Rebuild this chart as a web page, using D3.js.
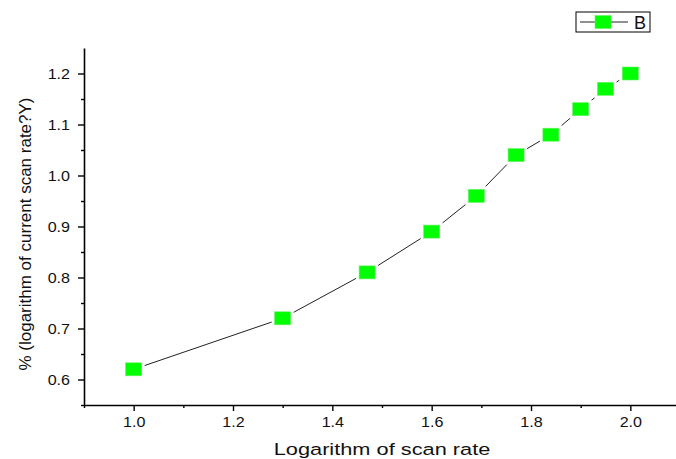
<!DOCTYPE html>
<html>
<head>
<meta charset="utf-8">
<script src="https://cdn.jsdelivr.net/npm/d3@7"></script>
<style>
html,body{margin:0;padding:0;background:#fff;}
svg{display:block;font-family:"Liberation Sans",Arial,sans-serif;}
</style>
</head>
<body>
<svg id="chart" width="676" height="459"></svg>
<script>
const xValues = [1.0, 1.30, 1.47, 1.60, 1.69, 1.77, 1.84, 1.90, 1.95, 2.0];
const yValues = [0.62, 0.72, 0.81, 0.89, 0.96, 1.04, 1.08, 1.13, 1.17, 1.20];
const xTicks = [1.0, 1.2, 1.4, 1.6, 1.8, 2.0];
const yTicks = [0.6, 0.7, 0.8, 0.9, 1.0, 1.1, 1.2];
const seriesName = "B";
const xTitle = "Logarithm of scan rate";
const yTitle = "% (logarithm of current scan rate?Y)";

const svg = d3.select("#chart");
const x = d3.scaleLinear().domain([0.9, 2.1]).range([84, 680]);
const y = d3.scaleLinear().domain([0.55, 1.25]).range([405, 48]);

const xMinor = d3.range(9, 21).map(d => d / 10).filter(v => !xTicks.some(t => Math.abs(t - v) < 1e-9));
const yMinor = d3.range(11, 25).map(d => d / 20).filter(v => !yTicks.some(t => Math.abs(t - v) < 1e-9));

const sxTick = 1.15;

// X axis
const gx = svg.append("g").attr("transform", "translate(0,405)");
gx.call(d3.axisBottom(x).tickValues(xTicks).tickFormat(d3.format(".1f")).tickSize(6).tickSizeOuter(0));
gx.append("g").call(d3.axisBottom(x).tickValues(xMinor).tickFormat("").tickSize(3).tickSizeOuter(0))
  .select(".domain").remove();
// Y axis
const gy = svg.append("g").attr("transform", "translate(84,0)");
gy.call(d3.axisLeft(y).tickValues(yTicks).tickFormat(d3.format(".1f")).tickSize(6).tickSizeOuter(0));
gy.append("g").call(d3.axisLeft(y).tickValues(yMinor).tickFormat("").tickSize(3).tickSizeOuter(0))
  .select(".domain").remove();

svg.selectAll(".domain").attr("stroke", "#000").attr("stroke-width", 1.6);
svg.selectAll(".tick line").attr("stroke", "#000").attr("stroke-width", 1.4);
svg.selectAll(".tick text").attr("fill", "#111").style("font-size", "14px")
  .style("font-family", "'Liberation Sans', Arial, sans-serif")
  .attr("transform", `scale(${sxTick},1)`);
gx.selectAll(".tick text").attr("dy", "0").attr("y", 22);
gy.selectAll(".tick text").attr("x", -14 / sxTick).attr("dy", "0.36em");

// Titles
svg.append("text").attr("transform", "translate(382,455) scale(1.32,1)").attr("text-anchor", "middle")
  .style("font-size", "16.5px").attr("fill", "#111").text(xTitle);
svg.append("text").attr("transform", "translate(31,234) rotate(-90)").attr("text-anchor", "middle")
  .style("font-size", "17px").attr("fill", "#111").text(yTitle);

// Line
const pts = xValues.map((v, i) => [v, yValues[i]]);
svg.append("path").datum(pts)
  .attr("d", d3.line().x(d => x(d[0])).y(d => y(d[1])))
  .attr("fill", "none").attr("stroke", "#222").attr("stroke-width", 1);

const mw = 16, mh = 13, gap = 3;
const mk = svg.append("g");
mk.selectAll("rect.bg").data(pts).join("rect").attr("class", "bg")
  .attr("x", d => x(d[0]) - mw / 2 - gap).attr("y", d => y(d[1]) - mh / 2 - gap)
  .attr("width", mw + 2 * gap).attr("height", mh + 2 * gap).attr("fill", "#fff");
mk.selectAll("rect.m").data(pts).join("rect").attr("class", "m")
  .attr("x", d => x(d[0]) - mw / 2).attr("y", d => y(d[1]) - mh / 2)
  .attr("width", mw).attr("height", mh).attr("fill", "#00ff00")
  .attr("stroke", "#66f066").attr("stroke-width", 0.6);

// Legend
const lg = svg.append("g");
lg.append("rect").attr("x", 576).attr("y", 12).attr("width", 74).attr("height", 20)
  .attr("fill", "#fff").attr("stroke", "#000").attr("stroke-width", 1);
lg.append("line").attr("x1", 580).attr("x2", 628).attr("y1", 22).attr("y2", 22)
  .attr("stroke", "#222").attr("stroke-width", 1);
lg.append("rect").attr("x", 603 - mw / 2).attr("y", 22 - mh / 2).attr("width", mw).attr("height", mh)
  .attr("fill", "#00ff00").attr("stroke", "#66f066").attr("stroke-width", 0.6);
lg.append("text").attr("x", 634).attr("y", 29).style("font-size", "18px").attr("fill", "#111").text(seriesName);
</script>
</body>
</html>
